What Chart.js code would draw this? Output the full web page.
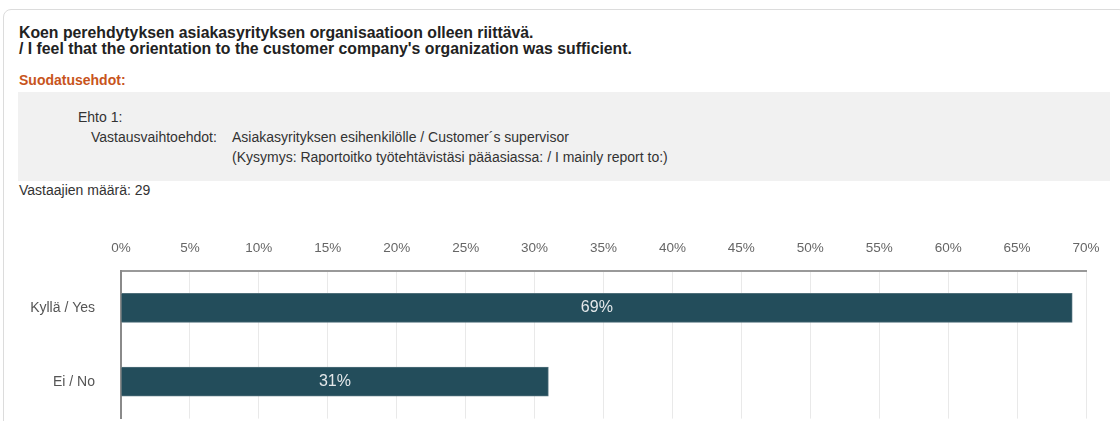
<!DOCTYPE html>
<html>
<head>
<meta charset="utf-8">
<script src="https://cdn.jsdelivr.net/npm/chart.js@4/dist/chart.umd.min.js"></script>
<style>
  html, body { margin: 0; padding: 0; background: #fff; overflow: hidden; }
  body { width: 1120px; height: 421px; position: relative; font-family: Arial, "Liberation Sans", sans-serif; color: #333; }
  .card { position: absolute; left: 3px; top: 9px; width: 1122px; height: 500px; border: 1px solid #dcdcdc; border-radius: 8px; }
  .title { position: absolute; left: 19px; top: 25px; font-size: 15.8px; font-weight: bold; color: #222; line-height: 16px; }
  .filters { position: absolute; left: 19px; top: 72px; font-size: 14px; font-weight: bold; color: #c8541c; }
  .filterbox { position: absolute; left: 18px; top: 92px; width: 1092px; height: 89px; background: #f1f1f1; font-size: 14px; color: #333; }
  .filterbox div { position: absolute; white-space: nowrap; }
  .count { position: absolute; left: 19px; top: 182px; font-size: 14px; color: #333; }
  .chart-wrap { position: absolute; left: 0; top: 225px; width: 1120px; height: 228px; }
  canvas { display: block; }
</style>
</head>
<body>
<div class="card"></div>
<div class="title">Koen perehdytyksen asiakasyrityksen organisaatioon olleen riittävä.<br>/ I feel that the orientation to the customer company's organization was sufficient.</div>
<div class="filters">Suodatusehdot:</div>
<div class="filterbox">
  <div style="left:60px; top:17px;">Ehto 1:</div>
  <div style="left:73px; top:37px;">Vastausvaihtoehdot:</div>
  <div style="left:214px; top:37px;">Asiakasyrityksen esihenkilölle / Customer´s supervisor</div>
  <div style="left:214px; top:57px;">(Kysymys: Raportoitko työtehtävistäsi pääasiassa: / I mainly report to:)</div>
</div>
<div class="count">Vastaajien määrä: 29</div>
<div class="chart-wrap"><canvas id="answerChart" width="1120" height="228"></canvas></div>

<script>
const categories = ["Kyllä / Yes", "Ei / No"];
const shares = [69, 31];
const axisMax = 70;
const axisStep = 5;

// writes the percentage in the middle of each bar
const barValueLabels = {
    id: "barValueLabels",
    afterDatasetsDraw(chart) {
        const c = chart.ctx;
        const meta = chart.getDatasetMeta(0);
        c.save();
        c.font = "16px Arial, 'Liberation Sans', sans-serif";
        c.fillStyle = "#e4e8ea";
        c.textAlign = "center";
        c.textBaseline = "middle";
        meta.data.forEach((bar, i) => {
            const mid = (bar.x + bar.base) / 2;
            c.fillText(shares[i] + "%", mid, bar.y);
        });
        c.restore();
    }
};

const ctx = document.getElementById("answerChart").getContext("2d");

new Chart(ctx, {
    type: "bar",
    data: {
        labels: categories,
        datasets: [
            {
                data: shares,
                backgroundColor: "#234d5b",
                borderColor: "#4f6f7a",
                borderWidth: 1,
                borderSkipped: "left",
                barThickness: 29
            }
        ]
    },
    options: {
        indexAxis: "y",
        responsive: false,
        animation: false,
        layout: { padding: { top: 0, right: 34, bottom: 0, left: 0 } },
        plugins: {
            legend: { display: false },
            tooltip: { enabled: false }
        },
        scales: {
            x: {
                position: "top",
                min: 0,
                max: axisMax,
                ticks: {
                    stepSize: axisStep,
                    padding: 15,
                    color: "#666",
                    font: { family: "Arial, 'Liberation Sans', sans-serif", size: 13.5 },
                    callback: v => v + "%"
                },
                grid: { color: "#e9e9e9", lineWidth: 1, drawTicks: false },
                border: { color: "#999", width: 2 },
                afterFit: s => { s.height = 46; }
            },
            y: {
                ticks: {
                    padding: 26,
                    color: "#555",
                    font: { family: "Arial, 'Liberation Sans', sans-serif", size: 14 }
                },
                grid: { display: false, drawTicks: false },
                border: { color: "#8a8a8a", width: 2 },
                afterFit: s => { s.width = 121; }
            }
        }
    },
    plugins: [barValueLabels]
});
</script>
</body>
</html>
